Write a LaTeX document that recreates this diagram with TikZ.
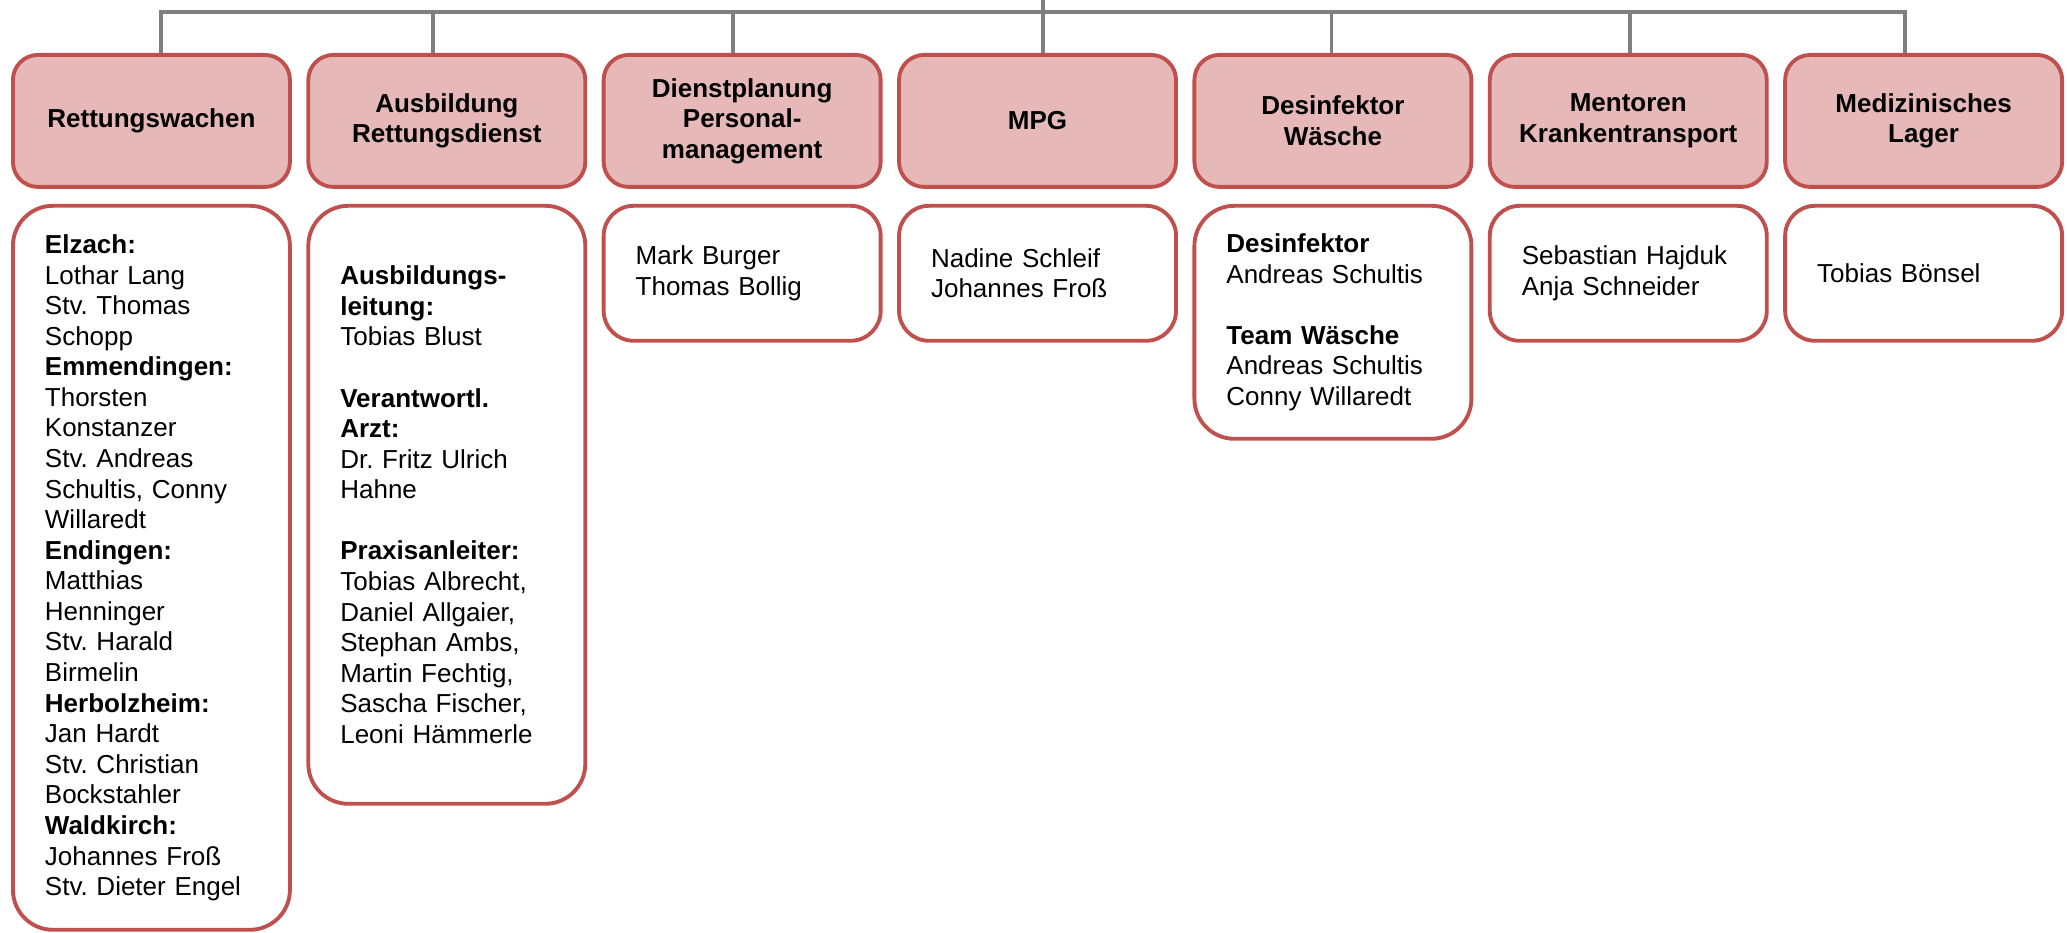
\documentclass[tikz,border=0pt]{standalone}
\usepackage{fontspec}
\setmainfont{Liberation Sans}
\usepackage{xcolor}
\definecolor{orgred}{HTML}{C0504D}
\definecolor{orgpink}{HTML}{E6B8B7}
\definecolor{orggray}{HTML}{7F7F7F}
\usepackage{tikz}
\usetikzlibrary{positioning}
\frenchspacing
\newcommand{\orgfont}{\fontsize{7.4}{8.7}\selectfont}
\tikzset{
  hbox/.style ={rectangle, rounded corners=2.5mm, draw=orgred, fill=orgpink, line width=1.1pt,
                align=center, minimum width=27.7mm, minimum height=13.2mm, inner sep=1pt,
                font=\orgfont\bfseries},
  cbox/.style ={rectangle, rounded corners=3mm, draw=orgred, fill=white, line width=1.1pt,
                align=left, text width=21.3mm, inner xsep=3.2mm, inner ysep=1pt,
                minimum height=13.5mm, font=\orgfont},
  cbig/.style ={cbox, rounded corners=4mm},
  conn/.style ={draw=orggray, line width=1.05pt},
}
\newcommand{\hd}[1]{\textbf{#1}}

\begin{document}
\begin{tikzpicture}
  \useasboundingbox (0,0) rectangle (20.67,-9.33);
  % header row
  \node[hbox, anchor=north west] (h1) at (0.11,-0.53) {Rettungswachen};
  \node[hbox, right=1.45mm of h1] (h2) {Ausbildung\\Rettungsdienst};
  \node[hbox, right=1.45mm of h2] (h3) {Dienstplanung\\Personal-\\management};
  \node[hbox, right=1.45mm of h3] (h4) {MPG};
  \node[hbox, right=1.45mm of h4] (h5) {Desinfektor\\Wäsche};
  \node[hbox, right=1.45mm of h5] (h6) {Mentoren\\Krankentransport};
  \node[hbox, right=1.45mm of h6] (h7) {Medizinisches\\Lager};
  % staff boxes
  \node[cbig, below=1.5mm of h1, minimum height=72.4mm] (c1) {\hd{Elzach:}\\Lothar Lang\\Stv. Thomas\\Schopp\\\hd{Emmendingen:}\\Thorsten\\Konstanzer\\Stv. Andreas\\Schultis, Conny\\Willaredt\\\hd{Endingen:}\\Matthias\\Henninger\\Stv. Harald\\Birmelin\\\hd{Herbolzheim:}\\Jan Hardt\\Stv. Christian\\Bockstahler\\\hd{Waldkirch:}\\Johannes Froß\\Stv. Dieter Engel};
  \node[cbig, below=1.5mm of h2, minimum height=59.8mm] (c2) {\hd{Ausbildungs-}\\\hd{leitung:}\\Tobias Blust\\[8.7pt]\hd{Verantwortl.}\\\hd{Arzt:}\\Dr. Fritz Ulrich\\Hahne\\[8.7pt]\hd{Praxisanleiter:}\\Tobias Albrecht,\\Daniel Allgaier,\\Stephan Ambs,\\Martin Fechtig,\\Sascha Fischer,\\Leoni Hämmerle};
  \node[cbox, below=1.5mm of h3] (c3) {Mark Burger\\Thomas Bollig};
  \node[cbox, below=1.5mm of h4] (c4) {Nadine Schleif\\Johannes Froß};
  \node[cbig, below=1.5mm of h5, minimum height=23.3mm] (c5) {\hd{Desinfektor}\\Andreas Schultis\\[8.7pt]\hd{Team Wäsche}\\Andreas Schultis\\Conny Willaredt};
  \node[cbox, below=1.5mm of h6] (c6) {Sebastian Hajduk\\Anja Schneider};
  \node[cbox, below=1.5mm of h7] (c7) {Tobias Bönsel};
  % connectors
  \coordinate (root) at (10.43,0);
  \coordinate (bus) at (0,-0.117);
  \draw[conn] ([xshift=0.95mm]h1.north) |- ([xshift=-1.85mm]h7.north |- bus) -- ([xshift=-1.85mm]h7.north);
  \foreach \n/\dx in {h2/-1.4, h3/-0.95, h5/-0.15, h6/0.2}
    \draw[conn] ([xshift=\dx mm]\n.north) -- ([xshift=\dx mm]\n.north |- bus);
  \draw[conn] (root) -- (root |- h4.north);
\end{tikzpicture}
\end{document}
